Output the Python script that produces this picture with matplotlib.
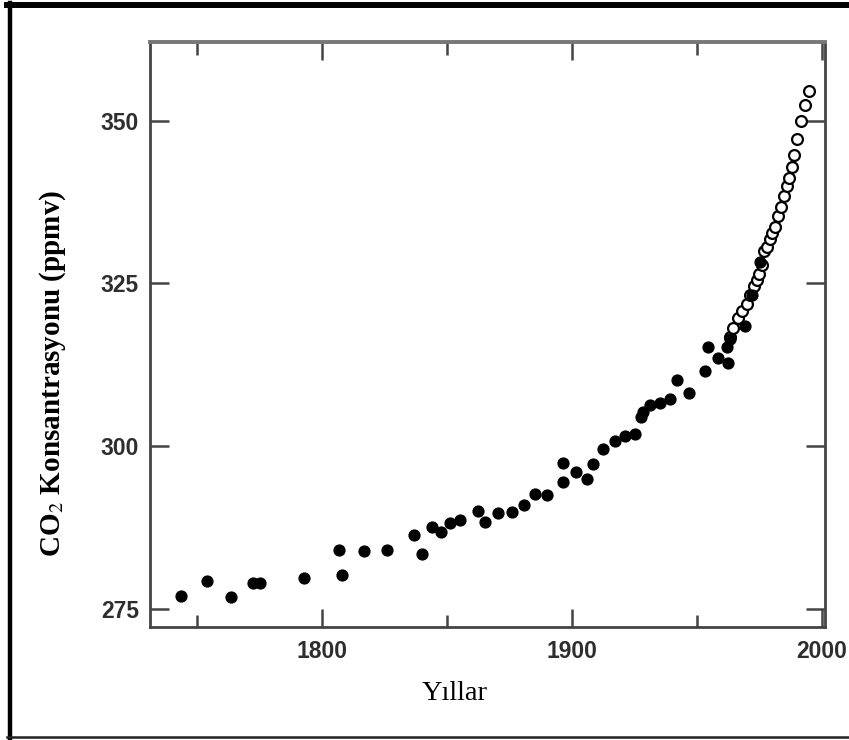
import matplotlib
matplotlib.use("Agg")
import matplotlib.pyplot as plt
from matplotlib.lines import Line2D

### DATOS
### ------------------

# buz karotlari (dolu noktalar)
years_core = [1743.6, 1754.0, 1763.7, 1772.6, 1775.3, 1792.8, 1806.8, 1808.1, 1817.0,
              1825.9, 1836.9, 1840.1, 1844.0, 1847.7, 1851.3, 1855.3, 1862.4, 1865.3,
              1870.4, 1876.0, 1880.9, 1885.3, 1890.0, 1896.6, 1896.6, 1901.7, 1906.0,
              1908.4, 1912.4, 1917.3, 1921.3, 1925.3, 1927.6, 1928.7, 1931.3, 1935.3,
              1939.3, 1942.0, 1947.0, 1953.3, 1954.7, 1958.6, 1962.0, 1962.7, 1963.3,
              1969.5, 1972.0, 1975.3]
co2_core = [276.9, 279.3, 276.8, 279.0, 279.0, 279.8, 284.0, 280.2, 283.9,
            284.1, 286.4, 283.4, 287.6, 286.8, 288.2, 288.7, 290.1, 288.3,
            289.7, 289.9, 290.9, 292.7, 292.5, 297.4, 294.5, 296.0, 295.0,
            297.2, 299.6, 300.8, 301.5, 301.9, 304.4, 305.3, 306.3, 306.6,
            307.2, 310.2, 308.2, 311.5, 315.3, 313.5, 315.3, 312.7, 316.5,
            318.4, 323.2, 328.3]

# Mauna Loa olcumleri (bos noktalar)
years_ml = [1963.3, 1964.5, 1966.5, 1968.2, 1970.0, 1971.5, 1972.8, 1974.0, 1975.0,
            1976.0, 1977.0, 1978.0, 1979.3, 1980.3, 1981.5, 1982.7, 1983.6, 1984.9,
            1986.0, 1986.8, 1988.0, 1988.8, 1990.2, 1991.7, 1993.5, 1995.0]
co2_ml = [316.8, 318.1, 319.7, 320.8, 321.9, 323.2, 324.6, 325.6, 326.5,
          327.8, 330.0, 330.6, 331.8, 332.7, 333.7, 335.4, 336.8, 338.5,
          340.0, 341.2, 342.9, 344.7, 347.2, 349.9, 352.4, 354.5]

x_major = [1800, 1900, 2000]
x_minor = [1750, 1850, 1950]
y_ticks = [275, 300, 325, 350]

### GRAFIK
### ------------------

fig = plt.figure(figsize=(8.49, 7.40), dpi=100)
ax = fig.add_axes([0.1767, 0.1527, 0.7950, 0.7905])

ax.plot(years_ml, co2_ml, 'o', ms=7.8, mfc='white', mec='black', mew=1.6, zorder=3)
ax.plot(years_core, co2_core, 'o', ms=7.8, color='black', mec='black', zorder=4)

ax.set_xlim(1731.3, 2001.3)
ax.set_ylim(272.2, 362.1)

ax.set_xticks(x_major)
ax.set_xticks(x_minor, minor=True)
ax.set_yticks(y_ticks)

ax.tick_params(axis='both', which='both', direction='in', top=True, right=True,
               colors='#444444', width=1.8, labelcolor='#2e2e2e', labelsize=16.5)
ax.tick_params(axis='x', which='major', length=13, pad=9)
ax.tick_params(axis='x', which='minor', length=9)
ax.tick_params(axis='y', which='major', length=14, pad=8)
for lab in ax.get_xticklabels() + ax.get_yticklabels():
    lab.set_fontfamily('Liberation Sans')
    lab.set_fontweight('bold')

for side in ['left', 'right', 'bottom']:
    ax.spines[side].set_color('#444444')
    ax.spines[side].set_linewidth(2.0)
ax.spines['top'].set_color('#777777')
ax.spines['top'].set_linewidth(2.8)

# eksen basliklari
fig.text(0.062, 0.495, 'CO$_2$ Konsantrasyonu (ppmv)', rotation=90,
         ha='center', va='center', fontsize=21, fontweight='bold',
         family='Liberation Serif', math_fontfamily='stix')
fig.text(0.536, 0.054, 'Y\u0131llar', ha='center', va='baseline',
         fontsize=20.5, family='Liberation Serif')

# cerceve
fig.add_artist(Line2D([0.008, 1.0], [0.9932, 0.9932], color='black', lw=4.3))
fig.add_artist(Line2D([0.0112, 0.0112], [0.003, 0.996], color='black', lw=3.2))
fig.add_artist(Line2D([0.008, 1.0], [0.004, 0.004], color='#222222', lw=1.8))

fig.savefig('out.png', dpi=100)
